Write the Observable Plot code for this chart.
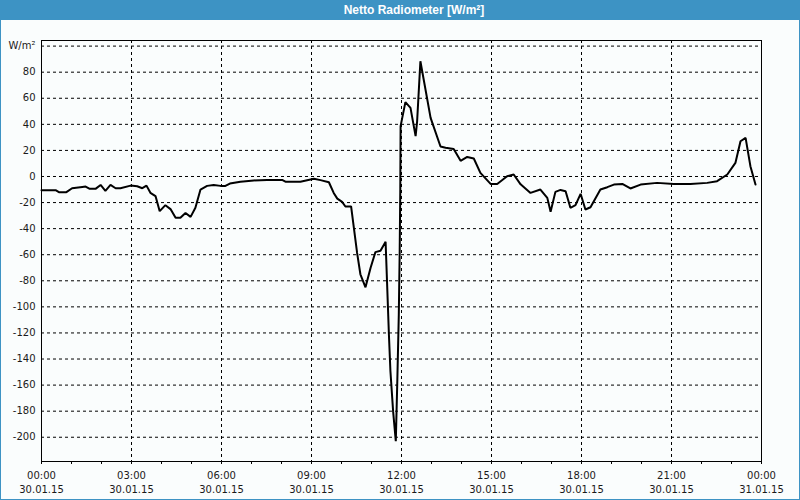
<!DOCTYPE html>
<html>
<head>
<meta charset="utf-8">
<script src="https://cdn.jsdelivr.net/npm/d3@7"></script>
<script src="https://cdn.jsdelivr.net/npm/@observablehq/plot@0.6"></script>
<style>
  html, body { margin: 0; padding: 0; background: #ffffff; }
  #wrap { width: 800px; height: 500px; box-sizing: border-box; border: 1px solid #3d93c4; border-top: none; background: #fafdfd; overflow: hidden; }
  #title { height: 20px; background: #3d93c4; color: #ffffff; font: bold 12px "Liberation Sans", Arial, sans-serif; line-height: 21px; text-align: center; padding-left: 28px; margin: 0 -1px; }
  #chart svg { display: block; }
</style>
</head>
<body>
<div id="wrap">
  <div id="title">Netto Radiometer [W/m²]</div>
  <div id="chart"></div>
</div>
<script>
// Time of day in hours (30.01.15) and net radiation in W/m²
const hours = [0, 0.47, 0.58, 0.83, 1.02, 1.36, 1.47, 1.61, 1.8, 1.97, 2.13, 2.3, 2.47, 2.63, 2.97, 3.19, 3.36, 3.5, 3.63, 3.8, 3.94, 4.13, 4.3, 4.47, 4.63, 4.8, 4.97, 5.13, 5.3, 5.52, 5.74, 5.97, 6.13, 6.28, 6.63, 7.08, 7.52, 8.02, 8.13, 8.63, 9.08, 9.3, 9.58, 9.74, 9.86, 10.02, 10.13, 10.32, 10.52, 10.63, 10.8, 10.97, 11.13, 11.3, 11.47, 11.58, 11.63, 11.72, 11.81, 11.86, 11.91, 11.94, 11.96, 11.97, 12.13, 12.3, 12.47, 12.52, 12.63, 12.69, 12.97, 13.3, 13.47, 13.74, 13.97, 14.19, 14.41, 14.63, 14.97, 15.19, 15.52, 15.74, 15.97, 16.3, 16.63, 16.86, 16.97, 17.13, 17.3, 17.47, 17.63, 17.8, 17.97, 18.13, 18.3, 18.63, 18.86, 19.08, 19.36, 19.63, 19.97, 20.52, 21.08, 21.63, 22.19, 22.52, 22.86, 23.13, 23.3, 23.47, 23.63, 23.8];
const values = [-10.5, -10.5, -12, -12, -9, -8, -7.7, -9.5, -9.5, -6.5, -11, -6.5, -9, -9, -7, -7.5, -9, -7, -12.5, -15, -26.6, -22, -25, -31.7, -31.7, -28, -31, -24, -10, -7.2, -6.5, -7.2, -7.2, -5.4, -4, -3, -2.6, -2.6, -4, -4, -1.8, -2.8, -4.4, -12.6, -17, -19.5, -23, -23, -58.6, -75, -85, -70, -58, -57, -50, -121, -149, -180, -203, -157, -106, -57, -9, 38.6, 57, 52.6, 31, 42, 88.4, 80.7, 45, 23, 22, 21, 12, 15, 13.8, 2.8, -5.7, -5.7, 0.2, 1.5, -6, -12.6, -10, -16.4, -27, -11.8, -10.3, -11.3, -24, -22, -13.3, -25.3, -23.6, -10, -8.2, -6.2, -5.7, -9.2, -6.2, -4.9, -5.7, -5.7, -4.9, -3.6, 1.5, 10.4, 27, 29.6, 7.9, -6.2];

// Axis ticks
const xTickHours = [0, 3, 6, 9, 12, 15, 18, 21, 24];
const xTickTimes = ["00:00", "03:00", "06:00", "09:00", "12:00", "15:00", "18:00", "21:00", "00:00"];
const xTickDates = ["30.01.15", "30.01.15", "30.01.15", "30.01.15", "30.01.15", "30.01.15", "30.01.15", "30.01.15", "31.01.15"];
const xMinorHours = d3.range(0, 25, 1);
const yTicks = [-200, -180, -160, -140, -120, -100, -80, -60, -40, -20, 0, 20, 40, 60, 80, 100];
const yUnitLabel = "W/m²";
const yDomain = [-218.6, 104.3];

const data = hours.map((h, i) => ({h, v: values[i]}));
const xTicks = xTickHours.map((h, i) => ({h, time: xTickTimes[i], date: xTickDates[i]}));

const font = "DejaVu Sans, Verdana, sans-serif";

const chart = Plot.plot({
  width: 798,
  height: 479,
  marginLeft: 40,
  marginRight: 38,
  marginTop: 20,
  marginBottom: 38,
  style: {background: "transparent", fontFamily: font, fontSize: "10px", color: "#1a1a1a"},
  x: {domain: [0, 24], axis: null},
  y: {domain: yDomain, axis: null},
  marks: [
    Plot.gridY(yTicks, {stroke: "#000", strokeOpacity: 1, strokeWidth: 1, strokeDasharray: "3,3"}),
    Plot.gridX(xTickHours.slice(1, -1), {stroke: "#000", strokeOpacity: 1, strokeWidth: 1, strokeDasharray: "3,3"}),
    Plot.axisX({ticks: xMinorHours, tickSize: 3, tickFormat: () => "", label: null, stroke: "#000", strokeOpacity: 1}),
    Plot.axisY({ticks: yTicks, tickSize: 0, tickPadding: 6, fontSize: 10, fill: "#1a1a1a", label: null,
      tickFormat: d => d === 100 ? yUnitLabel : String(d)}),
    Plot.text(xTicks, {x: "h", y: () => yDomain[0], text: "time", dy: 14, fontSize: 10, fill: "#1a1a1a", textAnchor: "middle"}),
    Plot.text(xTicks, {x: "h", y: () => yDomain[0], text: "date", dy: 28, fontSize: 10, fill: "#1a1a1a", textAnchor: "middle"}),
    Plot.frame({stroke: "#000", strokeWidth: 1}),
    Plot.line(data, {x: "h", y: "v", stroke: "#000", strokeWidth: 2, strokeLinejoin: "miter"})
  ]
});
document.getElementById("chart").appendChild(chart);
</script>
</body>
</html>
